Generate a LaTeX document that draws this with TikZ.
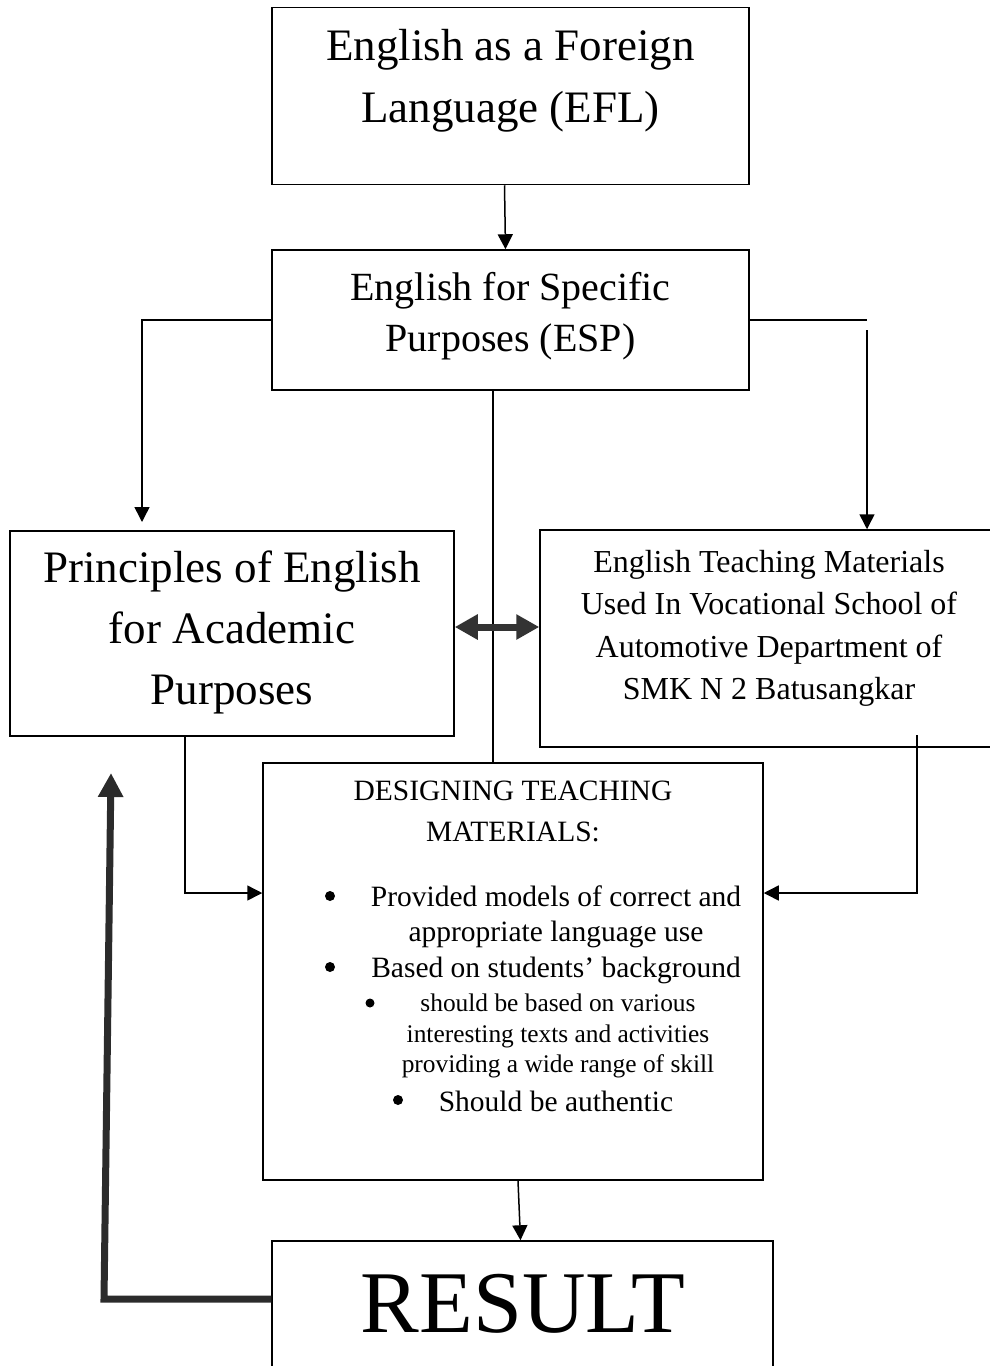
\documentclass[tikz,border=0pt]{standalone}
\usepackage{fontspec}
\setmainfont{Liberation Serif}
\usetikzlibrary{arrows.meta,positioning,calc}
\newcommand{\fsz}[2]{\fontsize{#1pt}{#2pt}\selectfont}

\begin{document}
\begin{tikzpicture}[
    x=1pt, y=-1pt,
    box/.style={draw, line width=1.5pt, inner sep=0pt},
    txt/.style={align=center, inner sep=0pt},
    dot/.style={circle, fill=black, inner sep=0pt, minimum size=10pt},
    ln/.style={line width=1.5pt},
    arr/.style={-{Triangle[length=15pt, width=15pt]}, line width=1.5pt},
    dbl/.style={{Triangle[length=23pt, width=24pt]}-{Triangle[length=23pt, width=24pt]}, line width=7pt, draw=black!80},
    back/.style={-{Triangle[length=24pt, width=24pt]}, line width=7pt, draw=black!83},
]
    \useasboundingbox (0,0) rectangle (990,1366);
    \clip (0,0) rectangle (990,1366);

    % Boxes
    \node[box, minimum width=477pt, minimum height=177pt] (efl) at (510.5, 96) {};
    \node[box, minimum width=477pt, minimum height=140pt] (esp) at (510.5, 320) {};
    \node[box, minimum width=444pt, minimum height=205pt] (prin) at (232, 633.5) {};
    \node[box, minimum width=470pt, minimum height=217pt] (mat) at (775, 638.5) {};
    \node[box, minimum width=500pt, minimum height=417pt] (design) at (513, 971.5) {};
    \node[box, minimum width=501pt, minimum height=140pt] (result) at (522.5, 1311) {};

    % Texts
    \node[txt, font=\fsz{45}{62}] (efl_txt) at (510.5, 81) {English as a Foreign\\Language (EFL)};
    \node[txt, font=\fsz{40}{51}] (esp_txt) at (510.5, 316) {English for Specific\\Purposes (ESP)};
    \node[txt, font=\fsz{45}{61}] (prin_txt) at (232, 632) {Principles of English\\for Academic\\Purposes};
    \node[txt, font=\fsz{32}{42.5}] (mat_txt) at (769, 628.5) {English Teaching Materials\\Used In Vocational School of\\Automotive Department of\\SMK N 2 Batusangkar};
    \node[txt, font=\fsz{88}{100}] (result_txt) at (523, 1304) {RESULT};

    % Designing teaching materials
    \node[txt, font=\fsz{29.5}{41}] (design_txt) at (513, 811) {DESIGNING TEACHING\\MATERIALS:};
    \node[dot] (b1) at (330, 896) {};
    \node[txt, font=\fsz{29.5}{35.5}] (b1_txt) at (556, 917) {Provided models of correct and\\appropriate language use};
    \node[dot] (b2) at (330, 967) {};
    \node[txt, font=\fsz{29.5}{35.5}] (b2_txt) at (556, 970) {Based on students’ background};
    \node[dot, minimum size=9pt] (b3) at (370, 1003) {};
    \node[txt, font=\fsz{25.4}{30.5}] (b3_txt) at (558, 1036) {should be based on various\\interesting texts and activities\\providing a wide range of skill};
    \node[dot] (b4) at (398, 1100) {};
    \node[txt, font=\fsz{29.5}{35.5}] (b4_txt) at (556, 1101) {Should be authentic};

    % Bends
    \coordinate (lt) at (142, 522);
    \coordinate (rt) at (867, 321);
    \coordinate (rs) at (867, 330);
    \coordinate (mid) at (493, 0);
    \coordinate (lk) at (185, 893);
    \coordinate (rk0) at (917, 735);
    \coordinate (rk) at (917, 893);
    \coordinate (fb) at (104, 1299);
    \coordinate (ft) at (111, 773);

    % Arrows
    \draw[arr] ([xshift=-6pt]efl.south) -- ([xshift=-5pt]esp.north);
    \draw[arr] (esp.west) -| (lt);
    \draw[ln] (esp.east) -- (esp.east -| rt);
    \draw[arr] (rs) -- (rs |- mat.north);
    \draw[ln] (esp.south -| mid) -- (design.north -| mid);
    \draw[dbl] ([yshift=6.5pt]prin.east) -- ([yshift=6.5pt]prin.east -| mat.west);
    \draw[arr] (prin.south -| lk) |- (design.west |- lk);
    \draw[arr] (rk0) |- (design.east |- rk);
    \draw[arr] ([xshift=5pt]design.south) -- ([xshift=-2pt]result.north);
    \draw[back] (result.west |- fb) -- (fb) -- (ft);
\end{tikzpicture}
\end{document}
